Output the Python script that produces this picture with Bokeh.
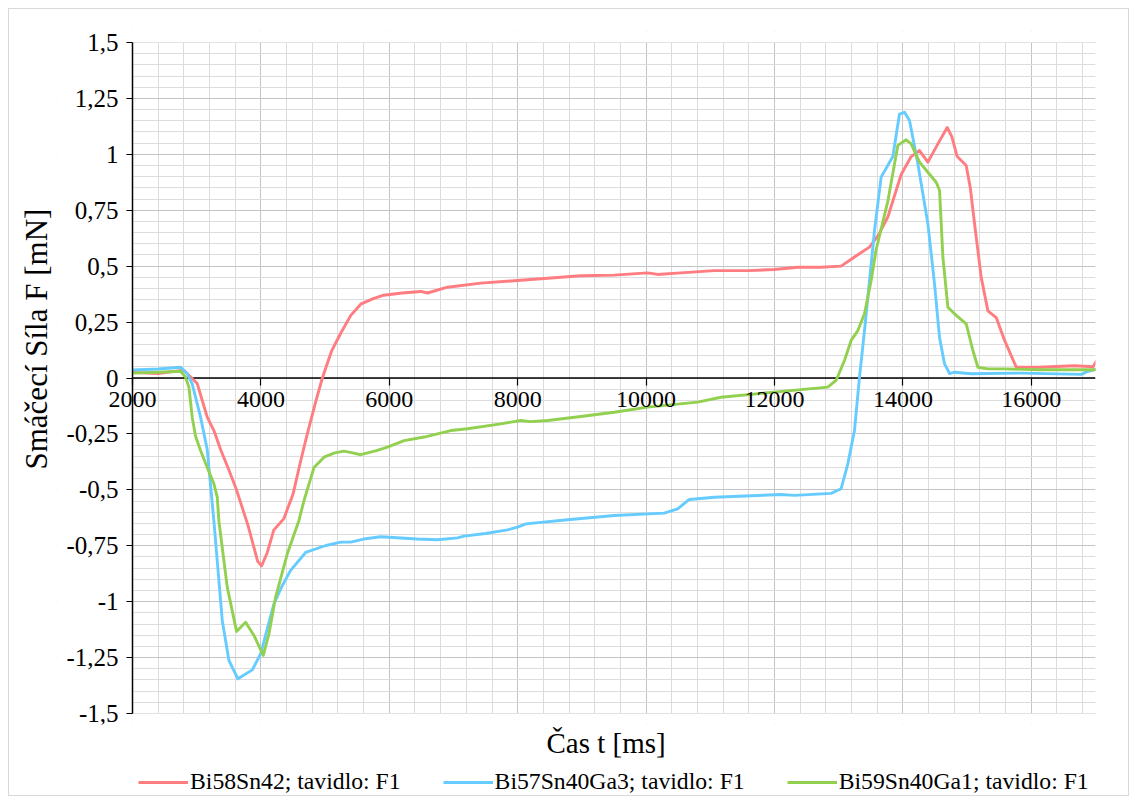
from bokeh.plotting import figure
from bokeh.layouts import column
from bokeh.models import (Range1d, FixedTicker, CustomJSTickFormatter, Legend, LegendItem, Title,
                          BoxAnnotation)
from bokeh.embed import file_html
from bokeh.resources import INLINE
import numpy as np

FONT = "Liberation Serif"

# ---------------- data ----------------
red_t = [2000, 2400, 2800, 3008, 3164, 3268, 3372, 3500, 3620, 3800, 3950, 4010, 4100, 4200, 4355,
         4500, 4620, 4723, 4850, 4957, 5100, 5243, 5400, 5555, 5750, 5913, 6200, 6490, 6594, 6906,
         7425, 7997, 8465, 8984, 9500, 10024, 10180, 10543, 11060, 11583, 11994, 12364, 12726,
         13038, 13240, 13479, 13620, 13765, 13973, 14129, 14259, 14389, 14545, 14690, 14760,
         14846, 14986, 15050, 15116, 15220, 15324, 15454, 15584, 15766, 16104, 16675, 16962, 17013]
red_v = [0.025, 0.02, 0.035, -0.025, -0.175, -0.235, -0.32, -0.41, -0.50, -0.66, -0.82, -0.84, -0.78,
         -0.68, -0.63, -0.52, -0.37, -0.25, -0.11, 0.0, 0.12, 0.20, 0.28, 0.33, 0.355, 0.37, 0.38,
         0.387, 0.38, 0.406, 0.424, 0.436, 0.446, 0.457, 0.46, 0.47, 0.463, 0.47, 0.48, 0.48, 0.485,
         0.495, 0.495, 0.50, 0.54, 0.585, 0.64, 0.72, 0.91, 0.99, 1.017, 0.965, 1.047, 1.12, 1.08,
         0.99, 0.95, 0.85, 0.69, 0.45, 0.30, 0.27, 0.168, 0.048, 0.048, 0.055, 0.05, 0.075]

blue_t = [2000, 2400, 2750, 2852, 2930, 3060, 3164, 3268, 3398, 3502, 3642, 3866, 3996, 4100, 4203,
          4330, 4463, 4697, 5000, 5243, 5399, 5600, 5866, 6438, 6750, 7062, 7165, 7500, 7841, 7997,
          8127, 8777, 9503, 10283, 10491, 10673, 11063, 12102, 12310, 12882, 13038, 13142, 13246,
          13324, 13402, 13480, 13558, 13661, 13843, 13947, 14025, 14103, 14233, 14389, 14493,
          14571, 14649, 14727, 14805, 15064, 15844, 16780, 16884, 17013]
blue_v = [0.036, 0.04, 0.048, 0.02, -0.026, -0.175, -0.32, -0.64, -1.084, -1.263, -1.345, -1.305,
          -1.233, -1.12, -1.01, -0.93, -0.86, -0.78, -0.75, -0.734, -0.734, -0.72, -0.71, -0.72,
          -0.723, -0.715, -0.707, -0.695, -0.679, -0.667, -0.652, -0.634, -0.615, -0.604, -0.585,
          -0.543, -0.533, -0.521, -0.525, -0.516, -0.495, -0.384, -0.235, 0.004, 0.212, 0.436, 0.66,
          0.898, 0.99, 1.18, 1.188, 1.151, 0.958, 0.69, 0.42, 0.18, 0.063, 0.02, 0.026, 0.019,
          0.022, 0.016, 0.03, 0.04]

green_t = [2000, 2400, 2750, 2826, 2878, 2930, 2982, 3060, 3164, 3268, 3320, 3346, 3476, 3621, 3762,
           3892, 4037, 4125, 4229, 4411, 4593, 4671, 4827, 4983, 5150, 5294, 5430, 5555, 5800, 5971,
           6230, 6542, 6958, 7218, 7737, 8049, 8200, 8465, 8984, 9503, 10024, 10803, 11167, 11998,
           12829, 12959, 13090, 13194, 13298, 13402, 13506, 13580, 13765, 13921, 14051, 14129,
           14259, 14389, 14519, 14571, 14623, 14701, 14831, 14986, 15090, 15168, 15324, 15584,
           16104, 16884, 17013]
green_v = [0.022, 0.026, 0.03, 0.004, -0.04, -0.175, -0.26, -0.324, -0.40, -0.473, -0.533, -0.64,
           -0.935, -1.133, -1.092, -1.151, -1.24, -1.144, -0.98, -0.786, -0.637, -0.548, -0.40,
           -0.354, -0.335, -0.327, -0.335, -0.343, -0.325, -0.309, -0.28, -0.264, -0.235, -0.227,
           -0.205, -0.19, -0.195, -0.19, -0.172, -0.153, -0.13, -0.108, -0.086, -0.063, -0.041,
           -0.011, 0.078, 0.168, 0.212, 0.287, 0.436, 0.57, 0.79, 1.04, 1.065, 1.047, 0.965, 0.92,
           0.875, 0.838, 0.54, 0.316, 0.28, 0.242, 0.123, 0.048, 0.041, 0.041, 0.037, 0.037, 0.037]

series_names = ["Bi58Sn42; tavidlo: F1", "Bi57Sn40Ga3; tavidlo: F1", "Bi59Sn40Ga1; tavidlo: F1"]
series_colors = ["#FF7C80", "#66CCFF", "#92D050"]

X_MIN, X_MAX = 2000, 17000
Y_MIN, Y_MAX = -1.5, 1.5
x_ticks = [2000, 4000, 6000, 8000, 10000, 12000, 14000, 16000]
x_minor = list(range(2000, 17000, 400))
y_ticks = [-1.5, -1.25, -1.0, -0.75, -0.5, -0.25, 0.0, 0.25, 0.5, 0.75, 1.0, 1.25, 1.5]
y_minor = [round(v, 2) for v in np.arange(-1.5, 1.5001, 0.05)]

x_title = "Čas t [ms]"
y_title = "Smáčecí Síla F [mN]"

# ---------------- layout numbers (pixels) ----------------
PLOT_W, PLOT_H = 963, 671   # data area between the axis limits
PAD_L = 75                  # room left of the y axis for its tick labels
PAD_V = 11                  # room above/below the axis limits for the end labels
B_LEFT, B_RIGHT, B_TOP, B_BOTTOM = 48, 33, 22, 37
x_start = X_MIN - PAD_L * (X_MAX - X_MIN) / PLOT_W
y_pad = PAD_V * (Y_MAX - Y_MIN) / PLOT_H
FIG_W = B_LEFT + PAD_L + PLOT_W + B_RIGHT
FIG_H = B_TOP + PAD_V + PLOT_H + PAD_V + B_BOTTOM

# ---------------- main figure ----------------
p = figure(width=FIG_W, height=FIG_H, output_backend="svg", toolbar_location=None,
           x_range=Range1d(x_start, X_MAX), y_range=Range1d(Y_MIN - y_pad, Y_MAX + y_pad),
           min_border_left=B_LEFT, min_border_right=B_RIGHT,
           min_border_top=B_TOP, min_border_bottom=B_BOTTOM)
p.outline_line_color = None
p.background_fill_color = "white"
p.border_fill_color = "white"

# grids
p.xgrid.ticker = FixedTicker(ticks=x_ticks, minor_ticks=x_minor)
p.ygrid.ticker = FixedTicker(ticks=y_ticks, minor_ticks=y_minor)
for g in (p.xgrid, p.ygrid):
    g.grid_line_color = "#C4C4C4"
    g.grid_line_width = 1
    g.minor_grid_line_color = "#DCDCDC"
    g.minor_grid_line_width = 1

# blank margins around the plot area (room for axis labels, no grid there)
for kw in (dict(right=X_MIN), dict(bottom=Y_MAX), dict(top=Y_MIN)):
    p.add_layout(BoxAnnotation(fill_color="white", fill_alpha=1.0, line_color=None,
                               level="glyph", **kw))

# x axis drawn on the zero line
xa = p.xaxis[0]
xa.fixed_location = 0
xa.ticker = FixedTicker(ticks=x_ticks)
xa.axis_line_color = None
xa.major_tick_line_color = "black"
xa.major_tick_line_width = 1.2
xa.major_tick_out = 7
xa.major_tick_in = 0
xa.minor_tick_line_color = None
xa.major_label_text_font = FONT
xa.major_label_text_font_size = "24px"
xa.major_label_text_color = "black"
xa.major_label_standoff = 7

# y axis at X_MIN
ya = p.yaxis[0]
ya.fixed_location = X_MIN
ya.bounds = (Y_MIN, Y_MAX)
ya.ticker = FixedTicker(ticks=y_ticks)
ya.formatter = CustomJSTickFormatter(code="return tick.toString().replace('.', ',');")
ya.axis_line_color = "black"
ya.axis_line_width = 1.5
ya.major_tick_line_color = "black"
ya.major_tick_out = 6
ya.major_tick_in = 0
ya.minor_tick_line_color = None
ya.major_label_text_font = FONT
ya.major_label_text_font_size = "25px"
ya.major_label_text_color = "black"
ya.major_label_standoff = 8

# axis titles
p.add_layout(Title(text=y_title, align="left", offset=244 + PAD_V, text_font=FONT,
                   text_font_size="31px", text_font_style="normal", text_color="black",
                   standoff=7), "left")
p.add_layout(Title(text=x_title, align="left", offset=PAD_L + 414, text_font=FONT,
                   text_font_size="29px", text_font_style="normal", text_color="black",
                   standoff=1), "below")

# zero line under the curves
p.segment(x0=[X_MIN], y0=[0], x1=[X_MAX], y1=[0], line_color="black", line_width=1.5)

# series
for t, v, c in zip([red_t, blue_t, green_t], [red_v, blue_v, green_v], series_colors):
    p.line(t, v, line_color=c, line_width=2.9, line_join="round", line_cap="round")

# ---------------- legend strip ----------------
leg = figure(width=FIG_W, height=34, output_backend="svg",
             toolbar_location=None, x_axis_location=None, y_axis_location=None,
             min_border_left=B_LEFT, min_border_right=B_RIGHT, min_border_top=0,
             min_border_bottom=0, x_range=Range1d(0, 1), y_range=Range1d(0, 1))
leg.outline_line_color = None
leg.xgrid.visible = False
leg.ygrid.visible = False
# same series, outside this strip's ranges: only their legend symbols show
leg_r = [leg.line(t, v, line_color=c, line_width=2.9)
         for t, v, c in zip([red_t, blue_t, green_t], [red_v, blue_v, green_v], series_colors)]

legend = Legend(items=[LegendItem(label=n, renderers=[r]) for n, r in zip(series_names, leg_r)],
                orientation="horizontal", location=(PAD_L + 6, 0),
                label_text_font=FONT, label_text_font_size="23.7px", label_text_color="black",
                glyph_width=50, glyph_height=20, spacing=42, label_standoff=2,
                border_line_color=None, background_fill_alpha=0, padding=0, margin=0)
leg.add_layout(legend, "center")

layout = column(p, leg, styles={"margin": "8px", "border": "1px solid #D9D9D9"})

open("out.html", "w").write(file_html(layout, INLINE))
